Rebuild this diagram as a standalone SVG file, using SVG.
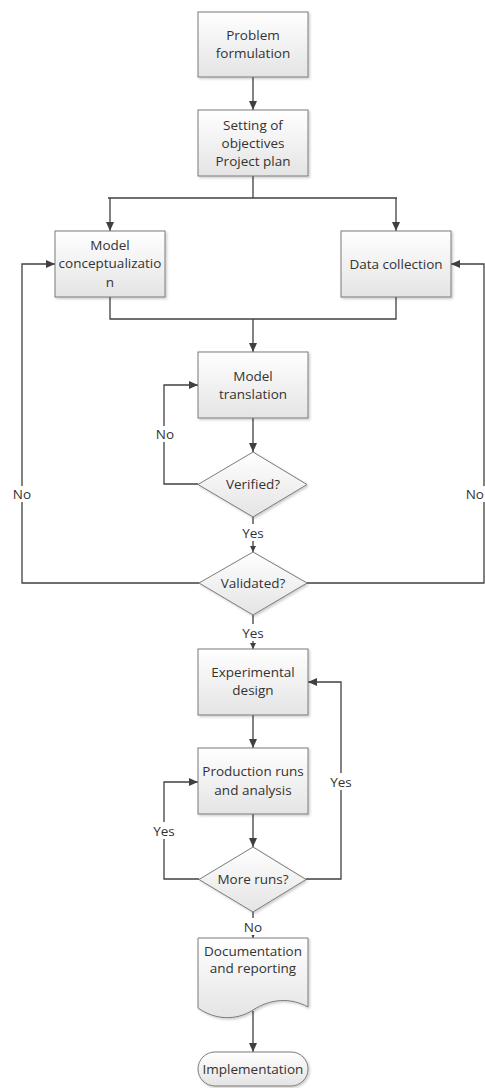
<svg xmlns="http://www.w3.org/2000/svg" width="485" height="1088" viewBox="0 0 485 1088">
<defs>
<linearGradient id="g" x1="0" y1="0" x2="0" y2="1">
<stop offset="0" stop-color="#ffffff"/>
<stop offset="1" stop-color="#e4e4e4"/>
</linearGradient>
<filter id="sh" x="-10%" y="-10%" width="130%" height="130%">
<feDropShadow dx="1.5" dy="1.5" stdDeviation="1" flood-color="#000" flood-opacity="0.2"/>
</filter>
<marker id="ah" markerWidth="10" markerHeight="8" refX="9" refY="4" orient="auto" markerUnits="userSpaceOnUse">
<path d="M0,0 L9,4 L0,8 Z" fill="#404040"/>
</marker>
<marker id="as" markerWidth="7" markerHeight="6" refX="6" refY="3" orient="auto" markerUnits="userSpaceOnUse">
<path d="M0,0 L6,3 L0,6 Z" fill="#404040"/>
</marker>
</defs>
<style>
.n{fill:url(#g);stroke:#7a7a7a;stroke-width:1;filter:url(#sh)}
.t{font-family:"Open Sans","Liberation Sans",sans-serif;font-size:13.5px;fill:#333;text-anchor:middle}
.c{fill:none;stroke:#404040;stroke-width:1.3}
.a{marker-end:url(#ah)}
.s{marker-end:url(#as)}
.bg{fill:#fff}
</style>
<g id="connectors">
<path class="c a" d="M253,77 V110"/>
<path class="c" d="M253,176 V198 M108,198 H397"/>
<path class="c a" d="M110,198 V231"/>
<path class="c a" d="M396,198 V231"/>
<path class="c" d="M110,297 V319 H396 V297"/>
<path class="c a" d="M253,319 V352"/>
<path class="c a" d="M253,418 V452"/>
<path class="c a" d="M198,484 H164 V385 H198"/>
<path class="c s" d="M253,517 V552"/>
<path class="c a" d="M199,583 H22 V264 H55"/>
<path class="c a" d="M307,583 H484 V264 H451"/>
<path class="c s" d="M253,615 V649"/>
<path class="c a" d="M253,715 V748"/>
<path class="c a" d="M253,814 V847"/>
<path class="c a" d="M199,879 H164 V782 H198"/>
<path class="c a" d="M306,879 H341 V682 H308"/>
<path class="c s" d="M253,912 V938"/>
<path class="c a" d="M253,1011 V1052"/>
</g>
<g id="labels">
<rect class="bg" x="11" y="486" width="22" height="16"/>
<text class="t" x="22" y="499">No</text>
<rect class="bg" x="466" y="486" width="19" height="16"/>
<text class="t" x="484" y="499" style="text-anchor:end">No</text>
<rect class="bg" x="153" y="426" width="23" height="16"/>
<text class="t" x="165" y="439">No</text>
<rect class="bg" x="239" y="524" width="28" height="17"/>
<text class="t" x="253" y="538">Yes</text>
<rect class="bg" x="239" y="624" width="28" height="17"/>
<text class="t" x="253" y="638">Yes</text>
<rect class="bg" x="326" y="773" width="29" height="17"/>
<text class="t" x="341" y="787">Yes</text>
<rect class="bg" x="150" y="822" width="29" height="17"/>
<text class="t" x="164" y="836">Yes</text>
<rect class="bg" x="241" y="918" width="24" height="17"/>
<text class="t" x="253" y="932">No</text>
</g>
<g id="problem">
<rect class="n" x="198" y="12" width="110" height="65"/>
<text class="t" x="253" y="40">Problem</text>
<text class="t" x="253" y="58">formulation</text>
</g>
<g id="objectives">
<rect class="n" x="198" y="110" width="110" height="66"/>
<text class="t" x="253" y="129.5">Setting of</text>
<text class="t" x="253" y="147.5">objectives</text>
<text class="t" x="253" y="165.5">Project plan</text>
</g>
<g id="conceptualization">
<rect class="n" x="55" y="231" width="110" height="66"/>
<text class="t" x="110" y="249.5">Model</text>
<text class="t" x="110" y="268">conceptualizatio</text>
<text class="t" x="110" y="287">n</text>
</g>
<g id="datacollection">
<rect class="n" x="341" y="231" width="110" height="66"/>
<text class="t" x="396" y="268.5">Data collection</text>
</g>
<g id="translation">
<rect class="n" x="198" y="352" width="110" height="66"/>
<text class="t" x="253" y="381">Model</text>
<text class="t" x="253" y="399">translation</text>
</g>
<g id="verified">
<path class="n" d="M253,452 L307,484.5 L253,517 L198,484.5 Z"/>
<text class="t" x="253" y="489">Verified?</text>
</g>
<g id="validated">
<path class="n" d="M253,552 L307,583 L253,615 L199,583 Z"/>
<text class="t" x="253" y="588">Validated?</text>
</g>
<g id="experimental">
<rect class="n" x="198" y="649" width="110" height="66"/>
<text class="t" x="253" y="677">Experimental</text>
<text class="t" x="253" y="695">design</text>
</g>
<g id="production">
<rect class="n" x="198" y="748" width="110" height="66"/>
<text class="t" x="253" y="776">Production runs</text>
<text class="t" x="253" y="794.5">and analysis</text>
</g>
<g id="moreruns">
<path class="n" d="M253,847 L306,879.5 L253,912 L199,879.5 Z"/>
<text class="t" x="253" y="884">More runs?</text>
</g>
<g id="documentation">
<path class="n" d="M198,938 H308 V1007 C290,997 270,999 253,1010 C236,1021 215,1020 198,1008 Z"/>
<text class="t" x="253" y="956">Documentation</text>
<text class="t" x="253" y="973">and reporting</text>
</g>
<g id="implementation">
<rect class="n" x="198" y="1052" width="110" height="34" rx="17" ry="17"/>
<text class="t" x="253" y="1074">Implementation</text>
</g>
</svg>
